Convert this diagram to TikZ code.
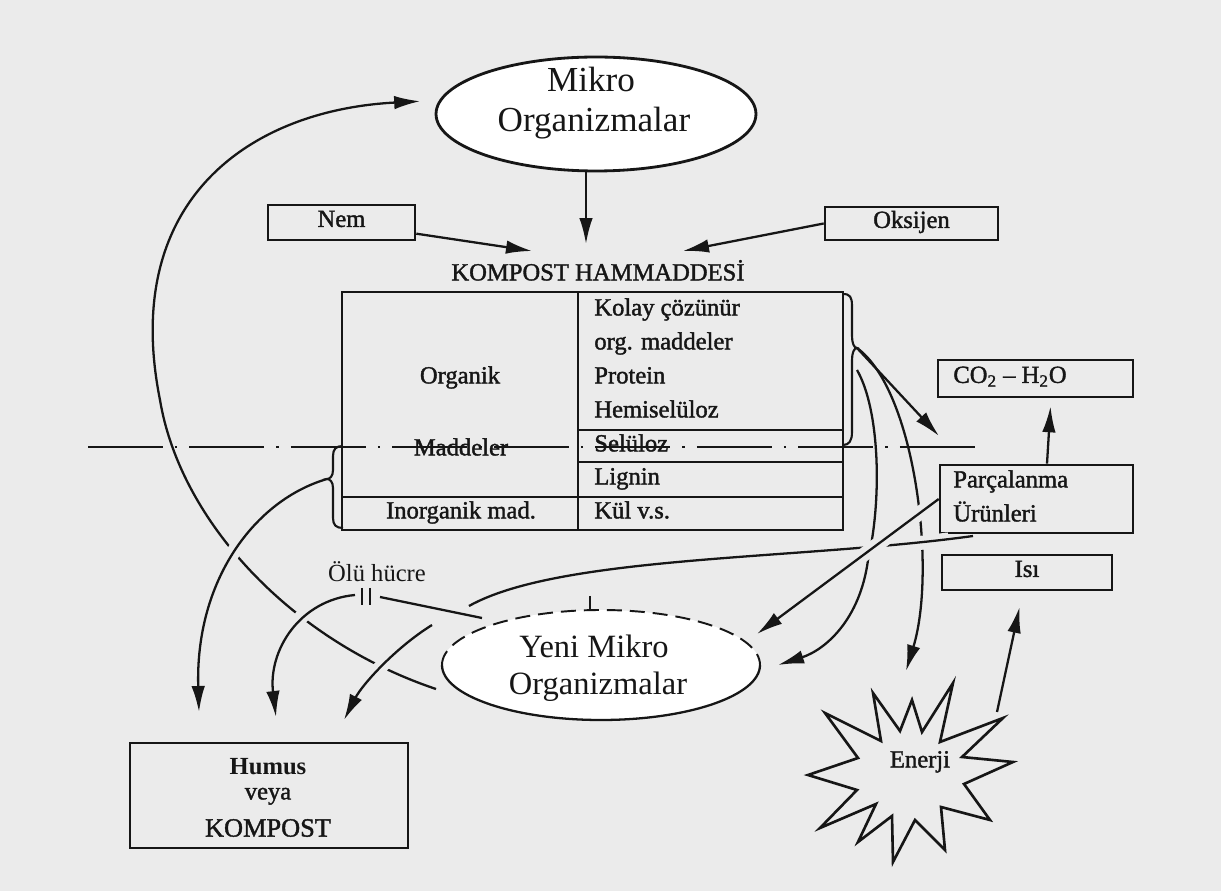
\documentclass[tikz,border=0pt]{standalone}
\usepackage{fontspec}
\setmainfont{Liberation Serif}
\newfontfamily\lblfont[FakeBold=1.5]{Liberation Serif}
\usetikzlibrary{arrows.meta,shapes.geometric}
\definecolor{paper}{RGB}{235,235,235}
\definecolor{ink}{RGB}{22,22,22}
\begin{document}
\begin{tikzpicture}[x=0.02cm,y=-0.02cm,
  every node/.style={inner sep=0pt,text=ink},
  boxed/.style={draw=ink,line width=1.5pt,rectangle},
  ovalnode/.style={ellipse,fill=white},
  lbl/.style={font=\lblfont\fontsize{14}{16}\selectfont,text height=0.72em,text depth=0.22em},
  ovtxt/.style={font=\fontsize{#1}{#1}\selectfont,text height=0.72em,text depth=0.22em},
  link/.style={draw=ink,line width=1.3pt},
  arr/.style={link,-{Latex[length=0.52cm,width=0.27cm]}},
  halo/.style={preaction={draw=paper,line width=8pt,arrows=-,shorten <=#1,shorten >=#1}},
  halo/.default=7pt,
  brace/.style={draw=ink,line width=1.2pt},
  tline/.style={draw=ink,line width=1.4pt}
]
% paper
\fill[paper] (0,0) rectangle (1221,891);
\useasboundingbox (0,0) rectangle (1221,891);

% ---- top: micro-organisms and inputs
\node[ovalnode,draw=ink,line width=1.6pt,minimum width=6.4cm,minimum height=2.28cm] (mikro) at (596,114) {};
\node[ovtxt=20] (mikroA) at (591,87) {Mikro};
\node[ovtxt=20] (mikroB) at (594,127) {Organizmalar};

\node[boxed,lbl,minimum width=2.94cm,minimum height=0.70cm] (nem) at (341.5,222.5) {Nem};
\node[boxed,lbl,minimum width=3.46cm,minimum height=0.66cm] (oks) at (911.5,223.5) {Oksijen};

\coordinate (mtip) at (586,244);
\coordinate (nemtip) at (532,251);
\coordinate (okstip) at (683,251);
\draw[arr] (mtip |- mikro.south) -- (mtip);
\draw[arr] (nem) -- (nemtip);
\draw[arr] (oks.west) -- (okstip);

\node[lbl] (hamtitle) at (598,276) {KOMPOST HAMMADDESİ};

% ---- raw material table
\draw[tline] (342,292) rectangle (843,530);
\draw[tline] (578,292) -- (578,530);
\draw[tline] (578,430) -- (843,430);
\draw[tline] (578,462) -- (843,462);
\draw[tline] (342,497) -- (843,497);

\node[lbl] (tOrg) at (460,379) {Organik};
\node[lbl] (tMad) at (461,451) {Maddeler};
\node[lbl] (tInorg) at (461,514) {Inorganik mad.};
\node[lbl,anchor=west] (tKolay) at (594,311) {Kolay çözünür};
\node[lbl,anchor=west] (tOrgM) at (594,345) {org. maddeler};
\node[lbl,anchor=west] (tProt) at (594,379) {Protein};
\node[lbl,anchor=west] (tHemi) at (594,413) {Hemiselüloz};
\node[lbl,anchor=west] (tSel) at (594,447) {Selüloz};
\node[lbl,anchor=west] (tLig) at (594,480) {Lignin};
\node[lbl,anchor=west] (tKul) at (594,514) {Kül v.s.};

% braces
\coordinate (brR) at (857,348);
\coordinate (brL) at (327,479);
\draw[brace] (843,294) .. controls (850,294) and (852,297) .. (852,306) -- (852,336)
  .. controls (852,343) and (854,348) .. (brR) .. controls (854,348) and (852,353) .. (852,360)
  -- (852,432) .. controls (852,441) and (849,445) .. (843,445);
\draw[brace] (343,446) .. controls (336,446) and (333,449) .. (333,456) -- (333,470)
  .. controls (333,476) and (330,479) .. (brL) .. controls (330,479) and (333,482) .. (333,488)
  -- (333,518) .. controls (333,525) and (336,528) .. (343,528);

% dash-dot separation line
\draw[ink,line width=1.1pt,dash pattern=on 1.5cm off 0.24cm on 0.05cm off 0.24cm] (88,447) -- (980,447);

% ---- right side products
\node[boxed,minimum width=3.9cm,minimum height=0.74cm] (co2) at (1035.5,378.5) {};
\node[lbl,anchor=west] (co2t) at (953,378.5) {CO\textsubscript{2} – H\textsubscript{2}O};
\node[boxed,minimum width=3.86cm,minimum height=1.36cm] (parc) at (1036.5,499) {};
\node[lbl,anchor=west] (parcA) at (953,483) {Parçalanma};
\node[lbl,anchor=west] (parcB) at (953,517) {Ürünleri};
\node[boxed,lbl,minimum width=3.4cm,minimum height=0.70cm] (isi) at (1027,572.5) {Isı};

\draw[arr,shorten >=0.16cm] ([xshift=0.21cm]parc.north) -- ([xshift=0.31cm]co2.south);

% ---- energy
\draw[draw=ink,line width=1.5pt,fill=paper,line join=miter,miter limit=25]
  (825,713) -- (881,741) -- (873,693) -- (900,731) -- (912,700) -- (922,732) -- (953,683)
  -- (940,742) -- (1003,718) -- (962,757) -- (1013,762) -- (964,784) -- (990,820)
  -- (941,807) -- (945,850) -- (915,820) -- (893,862) -- (892,816) -- (858,842)
  -- (876,804) -- (820,828) -- (857,790) -- (808,775) -- (858,758) -- cycle;
\node[lbl] (enerji) at (920,763) {Enerji};
\coordinate (estar) at (997,712);
\draw[arr,shorten >=0.32cm] (estar) -- (isi);

% ---- new micro-organisms
\node[ovalnode,minimum width=6.36cm,minimum height=2.2cm] (yeni) at (601,665) {};
\draw[ink,line width=1.3pt] (760,665) .. controls (760,695.4) and (688.8,720) .. (601,720)
  .. controls (513.2,720) and (442,695.4) .. (442,665);
\draw[ink,line width=1.1pt,dash pattern=on 0.3cm off 0.16cm] (442,665) .. controls (442,634.6) and (513.2,610) .. (601,610)
  .. controls (688.8,610) and (760,634.6) .. (760,665);
\draw[ink,line width=1pt] (590,596) -- (590,609);
\node[ovtxt=18.5] (yeniA) at (594,653) {Yeni Mikro};
\node[ovtxt=18.5] (yeniB) at (598,690) {Organizmalar};

% ---- decomposition flows from the easily degradable fraction
\coordinate (brTip) at (939,436);
\coordinate (aTip) at (906,671);
\coordinate (brB) at (857,370);
\coordinate (bTip) at (778,665);
\draw[arr] (brR) -- (brTip);
\draw[arr] (brR) .. controls (915,390) and (937,570) .. (aTip);
\draw[arr] (brB) .. controls (880,410) and (882,500) .. (868,560) .. controls (860,620) and (825,650) .. (bTip);

\coordinate (dStart) at (973,536);
\coordinate (dEnd) at (469,606);
\draw[link,halo=14pt] (dStart) .. controls (800,560) and (560,555) .. (dEnd);
\coordinate (cTip) at (757,634);
\draw[arr,halo] (parc.west) -- (cTip);

% ---- humus / compost
\node[boxed,minimum width=5.56cm,minimum height=2.1cm] (humus) at (269,795.5) {};
\node[font=\bfseries\fontsize{14}{16}\selectfont] (humA) at (268,767) {Humus};
\node[lbl] (humB) at (268,795) {veya};
\node[font=\lblfont\fontsize{15}{17}\selectfont] (humC) at (268,828) {KOMPOST};

% recycling loop back to the micro-organisms
\coordinate (lStart) at (436,689);
\draw[arr,shorten >=0.38cm] (lStart) .. controls (290,640) and (180,520) .. (160,400)
  .. controls (120,200) and (250,110) .. (mikro.175);

% dead cells
\node[font=\fontsize{14}{16}\selectfont] (oluLbl) at (377,572) {Ölü hücre};
\coordinate (oluR) at (380,597);
\coordinate (oluL) at (355,595);
\coordinate (oluE) at (482,618);
\draw[link] (oluE) -- (oluR);
\draw[link,line width=1.6pt] (362,588) -- (362,605);
\draw[link,line width=1.6pt] (370,588) -- (370,605);

\coordinate (hTip1) at (199,712);
\coordinate (hTip2) at (276,717);
\coordinate (hTip3) at (344,720);
\coordinate (yhStart) at (432,625);
\draw[arr,halo] (brL) .. controls (255,500) and (195,580) .. (hTip1);
\draw[arr,halo] (oluL) .. controls (300,600) and (268,650) .. (hTip2);
\draw[arr,halo] (yhStart) .. controls (395,648) and (362,685) .. (hTip3);
\end{tikzpicture}
\end{document}
